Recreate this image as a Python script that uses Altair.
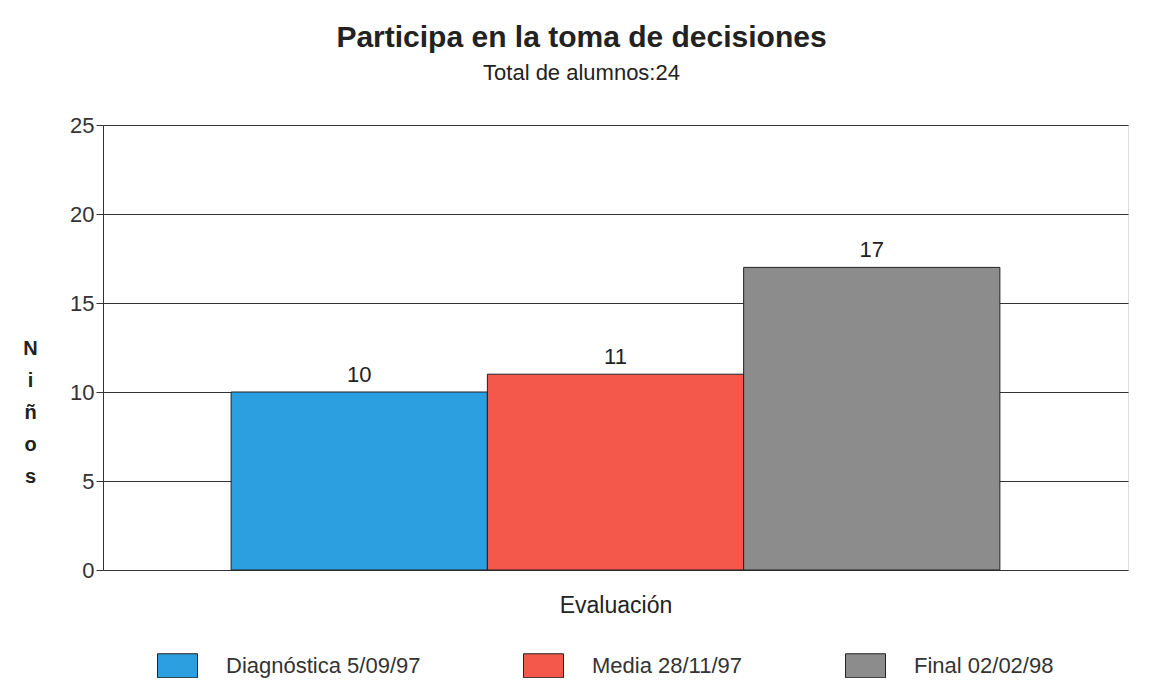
import altair as alt
import pandas as pd

categories = ["Diagnóstica 5/09/97", "Media 28/11/97", "Final 02/02/98"]
values = [10, 11, 17]
colors = ["#2b9fe0", "#f4584b", "#8c8c8c"]
y_ticks = [0, 5, 10, 15, 20, 25]

df = pd.DataFrame({"serie": categories, "ninos": values})

FONT = "Liberation Sans"

x_enc = alt.X("serie:N", sort=categories,
              scale=alt.Scale(paddingInner=0, paddingOuter=0.5),
              axis=alt.Axis(title="Evaluación", labels=False, ticks=False, domain=False,
                            titleFontSize=23, titleFontWeight="normal", titlePadding=24,
                            titleColor="#222", titleFont=FONT))

y_enc = alt.Y("ninos:Q",
              scale=alt.Scale(domain=[0, 25], nice=False),
              axis=alt.Axis(values=y_ticks, title=["N", "i", "ñ", "o", "s"],
                            titleAngle=0, titleFontSize=20, titleFontWeight="bold",
                            titleLineHeight=32, titleX=-73, titleY=223,
                            titleAlign="center", titleBaseline="middle",
                            titleColor="#222", titleFont=FONT,
                            labelFontSize=22, labelColor="#333", labelFont=FONT,
                            labelPadding=2, tickSize=7, tickColor="#333",
                            domainColor="#333", gridColor="#333", grid=True,
                            gridWidth=1))

bars = alt.Chart(df).mark_bar(stroke="#222", strokeWidth=1).encode(
    x=x_enc,
    y=y_enc,
    color=alt.Color("serie:N", sort=categories,
                    scale=alt.Scale(domain=categories, range=colors),
                    legend=alt.Legend(title=None, orient="none", direction="horizontal",
                                      legendX=54, legendY=520,
                                      symbolType="M-1,-0.6H1V0.6H-1Z",
                                      symbolSize=1600, symbolStrokeColor="#222",
                                      symbolStrokeWidth=1, symbolOpacity=1,
                                      labelFontSize=22, labelFont=FONT, labelColor="#333",
                                      labelLimit=400,
                                      labelOffset=28, columnPadding=100, padding=0)),
)

labels = alt.Chart(df).mark_text(dy=-17, fontSize=22, font=FONT, color="#222").encode(
    x=alt.X("serie:N", sort=categories),
    y="ninos:Q",
    text="ninos:Q",
)

chart = (bars + labels).properties(
    width=1025, height=445,
    padding={"left": 95, "top": 117, "right": 17, "bottom": 108},
    autosize=alt.AutoSizeParams(type="none"),
    title=alt.TitleParams("Participa en la toma de decisiones",
                          subtitle="Total de alumnos:24",
                          font=FONT, fontSize=30, fontWeight="bold", color="#222",
                          subtitleFont=FONT, subtitleFontSize=22, subtitleColor="#222",
                          subtitlePadding=10, anchor="middle", dx=-34, offset=30),
).configure_view(stroke="#333", strokeWidth=1).configure(background="white")

chart.save("out.html", embed_options={"renderer": "svg", "actions": False})
